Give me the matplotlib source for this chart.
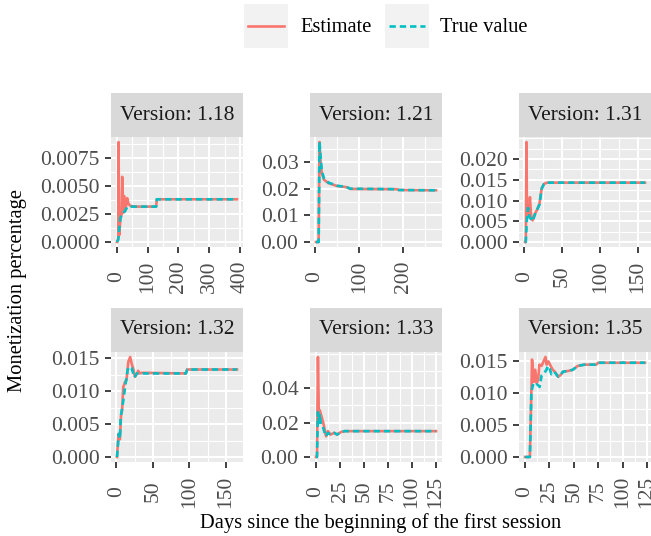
import matplotlib
matplotlib.use("Agg")
import matplotlib.pyplot as plt
from matplotlib.ticker import FixedLocator, AutoMinorLocator

plt.rcParams['font.family'] = ['Liberation Serif', 'DejaVu Serif']

versions = ["1.18", "1.21", "1.31", "1.32", "1.33", "1.35"]

# estimate / true value per version (days since first session, monetization %)
est_days_118 = [1, 5, 6, 8, 12, 16, 18, 20, 24, 26, 29, 34, 38, 45, 60, 128, 130, 390]
est_vals_118 = [0.0, 0.0003, 0.0089, 0.0006, 0.0020, 0.0025, 0.0058, 0.0026, 0.0041, 0.0027,
                0.0029, 0.0039, 0.0034, 0.0032, 0.00315, 0.00315, 0.0038, 0.0038]
true_days_118 = [1, 5, 8, 12, 16, 22, 28, 34, 40, 50, 128, 130, 390]
true_vals_118 = [0.0, 0.0002, 0.0012, 0.0021, 0.0025, 0.0026, 0.0028, 0.0031, 0.00315, 0.00315,
                 0.00315, 0.0038, 0.0038]

est_days_121 = [2, 8, 10, 12, 15, 20, 30, 50, 70, 80, 185, 190, 274]
est_vals_121 = [0.0, 0.0, 0.0377, 0.031, 0.026, 0.0235, 0.0222, 0.0211, 0.0207, 0.0200, 0.0199,
                0.0196, 0.0195]
true_days_121 = [2, 8, 10, 12, 15, 20, 30, 50, 70, 80, 185, 190, 274]
true_vals_121 = [0.0, 0.0, 0.0377, 0.033, 0.027, 0.024, 0.0224, 0.0212, 0.0208, 0.0201, 0.0199,
                 0.0196, 0.0195]

est_days_131 = [1, 2, 3, 3.5, 5, 6, 7.5, 9, 11, 14, 17, 20, 23, 26, 30, 159]
est_vals_131 = [0.0, 0.0, 0.0241, 0.0068, 0.0075, 0.0062, 0.0108, 0.0065, 0.0052, 0.0068, 0.0078,
                0.0092, 0.0130, 0.0140, 0.0143, 0.0143]
true_days_131 = [1, 2, 3.5, 5, 7, 9, 11, 14, 17, 20, 23, 26, 30, 159]
true_vals_131 = [0.0, 0.0, 0.0055, 0.0082, 0.0060, 0.0055, 0.0050, 0.0066, 0.0078, 0.0090, 0.0128,
                 0.0140, 0.0143, 0.0143]

est_days_132 = [1, 3, 5, 6.5, 8, 9.5, 12, 14, 16.5, 19, 21, 23, 25.5, 28, 30, 32, 35, 95, 97, 165]
est_vals_132 = [0.0, 0.0035, 0.0027, 0.0063, 0.0071, 0.0106, 0.0114, 0.0117, 0.0145, 0.0152,
                0.0142, 0.0135, 0.0122, 0.0126, 0.0131, 0.0127, 0.0128, 0.0127, 0.0133, 0.0133]
true_days_132 = [1, 3.5, 5, 6, 9.5, 12, 15.5, 17, 21, 25, 28, 35, 95, 97, 165]
true_vals_132 = [0.0, 0.0035, 0.0028, 0.0060, 0.0085, 0.0106, 0.0132, 0.0137, 0.0135, 0.0121,
                 0.0127, 0.0127, 0.0127, 0.0133, 0.0133]

est_days_133 = [0, 1, 2, 3, 4, 5, 7.5, 10.5, 12.5, 15, 19, 22, 26, 30, 125]
est_vals_133 = [0.0, 0.0, 0.058, 0.023, 0.027, 0.025, 0.020, 0.012, 0.015, 0.013, 0.014, 0.013,
                0.0145, 0.015, 0.015]
true_days_133 = [0, 1, 2, 3, 4, 5, 7, 10, 12.5, 15, 19, 22, 26, 30, 125]
true_vals_133 = [0.0, 0.0, 0.026, 0.019, 0.025, 0.019, 0.018, 0.012, 0.014, 0.013, 0.014, 0.013,
                 0.0145, 0.015, 0.015]

est_days_135 = [0, 5, 6.5, 7.2, 9, 10.5, 12, 13.5, 14.7, 17, 19, 21, 22.2, 24, 26.3, 28.4, 30.5,
                34, 36, 39, 44, 49, 54, 61, 73, 75, 123]
est_vals_135 = [0.0, 0.0, 0.0100, 0.0153, 0.0118, 0.0137, 0.0116, 0.0121, 0.0145, 0.0143, 0.0150,
                0.0157, 0.0145, 0.0150, 0.0143, 0.0137, 0.0134, 0.0126, 0.0128, 0.0134, 0.0135,
                0.0137, 0.0143, 0.0145, 0.0145, 0.0148, 0.0148]
true_days_135 = [0, 5, 6.5, 8, 10, 12, 14, 15, 17, 19.5, 22, 23.5, 25, 27, 30, 34, 36, 39, 44,
                 49, 54, 61, 73, 75, 123]
true_vals_135 = [0.0, 0.0, 0.0100, 0.0113, 0.0110, 0.0114, 0.0112, 0.0110, 0.0128, 0.0131, 0.0137,
                 0.0143, 0.0140, 0.0130, 0.0134, 0.0126, 0.0128, 0.0134, 0.0135, 0.0137, 0.0143,
                 0.0145, 0.0145, 0.0148, 0.0148]

x_ticks = {
    "1.18": [0, 100, 200, 300, 400],
    "1.21": [0, 100, 200],
    "1.31": [0, 50, 100, 150],
    "1.32": [0, 50, 100, 150],
    "1.33": [0, 25, 50, 75, 100, 125],
    "1.35": [0, 25, 50, 75, 100, 125],
}
y_ticks = {
    "1.18": [0.0, 0.0025, 0.005, 0.0075],
    "1.21": [0.0, 0.01, 0.02, 0.03],
    "1.31": [0.0, 0.005, 0.01, 0.015, 0.02],
    "1.32": [0.0, 0.005, 0.01, 0.015],
    "1.33": [0.0, 0.02, 0.04],
    "1.35": [0.0, 0.005, 0.01, 0.015],
}
y_decimals = {"1.18": 4, "1.21": 2, "1.31": 3, "1.32": 3, "1.33": 2, "1.35": 3}

series = {
    "1.18": (est_days_118, est_vals_118, true_days_118, true_vals_118),
    "1.21": (est_days_121, est_vals_121, true_days_121, true_vals_121),
    "1.31": (est_days_131, est_vals_131, true_days_131, true_vals_131),
    "1.32": (est_days_132, est_vals_132, true_days_132, true_vals_132),
    "1.33": (est_days_133, est_vals_133, true_days_133, true_vals_133),
    "1.35": (est_days_135, est_vals_135, true_days_135, true_vals_135),
}

EST_COLOR = '#F8766D'
TRUE_COLOR = '#00BFC4'
FS = 15.5
TITLE_FS = 14.8
LW = 1.9
DASH = (2.4, 1.5)

W, H = 651, 536
fig = plt.figure(figsize=(W / 100, H / 100), dpi=100)

col_left = [111, 310, 519]
row_bottom = [247, 462]
pw, ph, sh = 132, 110, 44

for i, v in enumerate(versions):
    r, c = divmod(i, 3)
    left = col_left[c] / W
    bottom = 1 - row_bottom[r] / H
    ax = fig.add_axes([left, bottom, pw / W, ph / H])
    ax.set_facecolor('#EBEBEB')
    for s in ax.spines.values():
        s.set_visible(False)
    ed, ev, td, tv = series[v]
    ax.plot(ed, ev, color=EST_COLOR, lw=LW)
    ax.plot(td, tv, color=TRUE_COLOR, lw=LW, dashes=DASH)
    ax.margins(0.05)
    ax.xaxis.set_major_locator(FixedLocator(x_ticks[v]))
    ax.yaxis.set_major_locator(FixedLocator(y_ticks[v]))
    ax.xaxis.set_minor_locator(AutoMinorLocator(2))
    ax.yaxis.set_minor_locator(AutoMinorLocator(2))
    d = y_decimals[v]
    ax.set_yticklabels([f"{t:.{d}f}" for t in y_ticks[v]])
    ax.set_xticklabels([str(t) for t in x_ticks[v]], rotation=90, va='center')
    ax.grid(which='major', color='white', lw=1.5)
    ax.grid(which='minor', color='white', lw=0.8)
    ax.set_axisbelow(True)
    ax.tick_params(which='major', length=4.3, width=1.3, color='#333333',
                   labelcolor='#4D4D4D', labelsize=FS)
    ax.tick_params(axis='y', pad=4)
    ax.tick_params(axis='x', pad=17)
    ax.tick_params(which='minor', length=0)

    sax = fig.add_axes([left, bottom + ph / H, pw / W, sh / H])
    sax.set_facecolor('#D9D9D9')
    sax.set_xticks([])
    sax.set_yticks([])
    for s in sax.spines.values():
        s.set_visible(False)
    sax.text(0.5, 0.5, f"Version: {v}", ha='center', va='center', fontsize=FS,
             color='#1A1A1A', transform=sax.transAxes)

fig.text(18 / W, 1 - 290 / H, "Monetization percentage", rotation=90, ha='center',
         va='center', fontsize=TITLE_FS)
fig.text(381 / W, 1 - 523 / H, "Days since the beginning of the first session", ha='center',
         va='center', fontsize=TITLE_FS)

# legend
for kx, color, dash, label, tx in [(244, EST_COLOR, None, "Estimate", 300),
                                   (385, TRUE_COLOR, DASH, "True value", 440)]:
    kax = fig.add_axes([kx / W, 1 - 48 / H, 44 / W, 44 / H])
    kax.set_facecolor('#F2F2F2')
    kax.set_xticks([])
    kax.set_yticks([])
    for s in kax.spines.values():
        s.set_visible(False)
    kax.set_xlim(0, 1)
    kax.set_ylim(0, 1)
    if dash is None:
        kax.plot([0.1, 0.9], [0.5, 0.5], color=color, lw=LW)
    else:
        kax.plot([0.1, 0.9], [0.5, 0.5], color=color, lw=LW, dashes=dash)
    fig.text(tx / W, 1 - 27 / H, label, ha='left', va='center', fontsize=TITLE_FS)

fig.savefig("out.png", dpi=100)
